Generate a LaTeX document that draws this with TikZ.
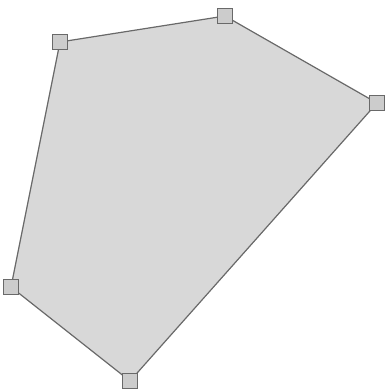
\documentclass[tikz,border=0pt]{standalone}
\usepackage{tikz}
\definecolor{shapegray}{RGB}{216, 216, 216}
\definecolor{edgegray}{RGB}{105, 105, 105}
\definecolor{handlegray}{RGB}{204, 204, 204}

\begin{document}
\begin{tikzpicture}[x=1pt, y=-1pt,
    handle/.style={draw=edgegray, fill=handlegray, line width=1.6pt,
      minimum size=15pt, inner sep=0pt, outer sep=0pt}]
    \useasboundingbox (0,0) rectangle (387,390);
    \clip (0,0) rectangle (387,390);
    % corner points
    \coordinate (p1) at (60,42);
    \coordinate (p2) at (225,16);
    \coordinate (p3) at (377,103);
    \coordinate (p4) at (130,381);
    \coordinate (p5) at (11,287);
    \filldraw[fill=shapegray, draw=edgegray, line width=1.2pt]
      (p1) -- (p2) -- (p3) -- (p4) -- (p5) -- cycle;
    \node[handle] (h1) at (p1) {};
    \node[handle] (h2) at (p2) {};
    \node[handle] (h3) at (p3) {};
    \node[handle] (h4) at (p4) {};
    \node[handle] (h5) at (p5) {};
  \end{tikzpicture}
\end{document}
